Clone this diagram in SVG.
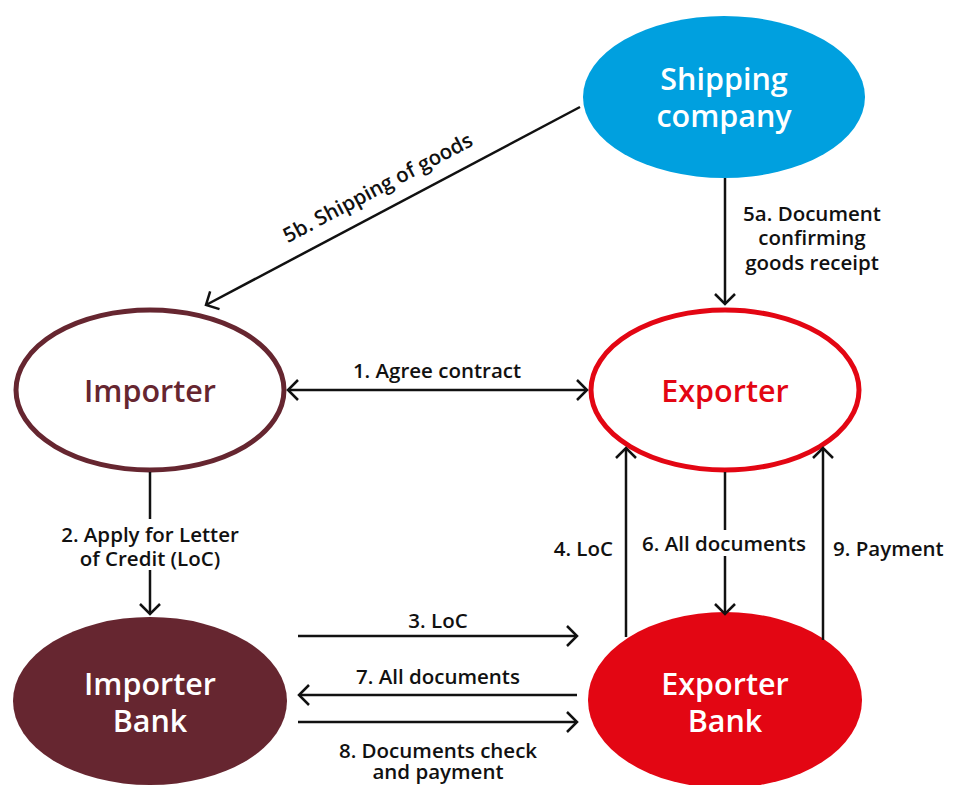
<svg xmlns="http://www.w3.org/2000/svg" width="961" height="785" viewBox="0 0 961 785">
<style>
.lbl{font-family:"Open Sans","Noto Sans",sans-serif;font-weight:600;font-size:20.5px;fill:#111}
.node{font-family:"Open Sans","Noto Sans",sans-serif;font-weight:600;font-size:30.5px}
.ln{stroke:#111;stroke-width:2.5;fill:none}
</style>
<defs>
<marker id="ah" markerUnits="userSpaceOnUse" markerWidth="24" markerHeight="24" viewBox="-12 -12 24 24" refX="0" refY="0" orient="auto-start-reverse">
<path d="M-10,-10 L0,0 L-10,10" fill="none" stroke="#111" stroke-width="2.5"/>
</marker>
</defs>
<rect width="961" height="785" fill="#fff"/>
<g id="shipping">
<ellipse cx="724" cy="97" rx="141" ry="81" fill="#00A0DF"/>
<text class="node" text-anchor="middle" fill="#fff"><tspan x="724" y="90">Shipping</tspan><tspan x="724" y="127">company</tspan></text>
</g>
<g id="importer">
<ellipse cx="150" cy="390" rx="134" ry="80" fill="#fff" stroke="#662630" stroke-width="5"/>
<text class="node" x="150" y="402" text-anchor="middle" fill="#662630">Importer</text>
</g>
<g id="exporter">
<ellipse cx="725" cy="390" rx="134" ry="80" fill="#fff" stroke="#E30613" stroke-width="5"/>
<text class="node" x="725" y="402" text-anchor="middle" fill="#E30613">Exporter</text>
</g>
<g id="importer-bank">
<ellipse cx="150" cy="701" rx="137" ry="84" fill="#662630"/>
<text class="node" text-anchor="middle" fill="#fff"><tspan x="150" y="695">Importer</tspan><tspan x="150" y="732">Bank</tspan></text>
</g>
<g id="exporter-bank">
<ellipse cx="725" cy="700" rx="137" ry="88" fill="#E30613"/>
<text class="node" text-anchor="middle" fill="#fff"><tspan x="725" y="695">Exporter</tspan><tspan x="725" y="732">Bank</tspan></text>
</g>
<g id="connectors">
<line class="ln" x1="580" y1="107" x2="206" y2="305" marker-end="url(#ah)"/>
<text class="lbl" transform="translate(381,194) rotate(-27.8)" text-anchor="middle">5b. Shipping of goods</text>
<line class="ln" x1="725" y1="178" x2="725" y2="304" marker-end="url(#ah)"/>
<text class="lbl" text-anchor="middle"><tspan x="812" y="221">5a. Document</tspan><tspan x="812" y="245">confirming</tspan><tspan x="812" y="270">goods receipt</tspan></text>
<line class="ln" x1="288" y1="390" x2="587" y2="390" marker-start="url(#ah)" marker-end="url(#ah)"/>
<text class="lbl" x="437" y="378" text-anchor="middle">1. Agree contract</text>
<line class="ln" x1="150" y1="472" x2="150" y2="519"/>
<line class="ln" x1="150" y1="570" x2="150" y2="614" marker-end="url(#ah)"/>
<text class="lbl" text-anchor="middle"><tspan x="150" y="542">2. Apply for Letter</tspan><tspan x="150" y="566">of Credit (LoC)</tspan></text>
<line class="ln" x1="298" y1="636" x2="577" y2="636" marker-end="url(#ah)"/>
<text class="lbl" x="438" y="628" text-anchor="middle">3. LoC</text>
<line class="ln" x1="577" y1="695" x2="299" y2="695" marker-end="url(#ah)"/>
<text class="lbl" x="438" y="684" text-anchor="middle">7. All documents</text>
<line class="ln" x1="298" y1="722" x2="577" y2="722" marker-end="url(#ah)"/>
<text class="lbl" text-anchor="middle"><tspan x="438" y="758">8. Documents check</tspan><tspan x="438" y="779">and payment</tspan></text>
<line class="ln" x1="626" y1="637" x2="626" y2="448" marker-end="url(#ah)"/>
<text class="lbl" x="613" y="556" text-anchor="end">4. LoC</text>
<line class="ln" x1="725" y1="472" x2="725" y2="530"/>
<line class="ln" x1="725" y1="556" x2="725" y2="614" marker-end="url(#ah)"/>
<text class="lbl" x="724" y="551" text-anchor="middle">6. All documents</text>
<line class="ln" x1="823" y1="640" x2="823" y2="448" marker-end="url(#ah)"/>
<text class="lbl" x="833" y="556">9. Payment</text>
</g>
</svg>
